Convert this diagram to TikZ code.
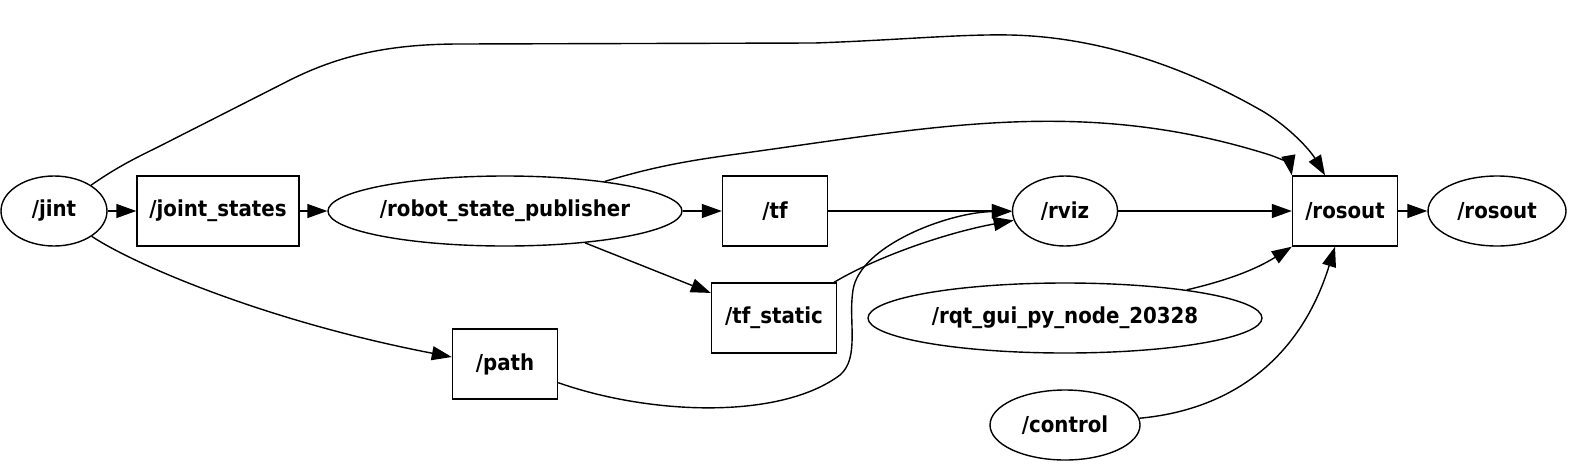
\documentclass[tikz,border=0pt]{standalone}
\usepackage{fontspec}
\setmainfont{DejaVu Sans Condensed}
\usetikzlibrary{shapes.geometric,arrows.meta}
\tikzstyle{topic} = [rectangle, minimum width = 105pt, minimum height = 70pt, inner sep = 0pt, text centered, draw = black, line width = 1.4pt, font = \bfseries\fontsize{22}{26}\selectfont]
\tikzstyle{rosnode} = [ellipse, minimum width = 105pt, minimum height = 70pt, inner sep = 0pt, text centered, draw = black, line width = 1.4pt, font = \bfseries\fontsize{22}{26}\selectfont]
\tikzstyle{arrow} = [line width = 1.4pt, -{Triangle[length=20pt,width=14pt]}]

\begin{document}
\begin{tikzpicture}[x = 1pt, y = -1pt, node distance = 107pt]
        	\useasboundingbox (0,0) rectangle (1570,464);

        	\node[rosnode, minimum width = 106pt] (jint) at (54,211) {/jint};
        	\node[topic, minimum width = 162pt, right of = jint, xshift = 57pt] (joint states) {/joint\_states};
        	\node[rosnode, minimum width = 354pt, right of = joint states, xshift = 180pt] (rsp) {/robot\_state\_publisher};
        	\node[topic, right of = rsp, xshift = 163pt] (tf) {/tf};
        	\node[rosnode, right of = tf, xshift = 183pt] (rviz) {/rviz};
        	\node[topic, right of = rviz, xshift = 173pt] (rosout) {/rosout};
        	\node[rosnode, minimum width = 138pt, right of = rosout, xshift = 45pt] (rosout log) {/rosout};
        	\node[topic, minimum width = 125pt, below of = tf, xshift = -1pt] (tf static) {/tf\_static};
        	\node[topic, below of = rsp, yshift = -46pt] (path) {/path};
        	\node[rosnode, minimum width = 394pt, below of = rviz] (rqt) {/rqt\_gui\_py\_node\_20328};
        	\node[rosnode, minimum width = 150pt, below of = rqt] (control) {/control};

        	\draw [arrow](jint)--(joint states);
        	\draw [arrow](joint states)--(rsp);
        	\draw [arrow](rsp)--(tf);
        	\draw [arrow](rsp)--(tf static);
        	\draw [arrow](tf)--(rviz);
        	\draw [arrow](rviz)--(rosout);
        	\draw [arrow](rosout)--(rosout log);
        	\draw [arrow](tf static) .. controls (880,255) and (950,232) .. (rviz);
        	\draw [arrow](path) .. controls (650,415) and (780,420) .. (840,375)
        		.. controls (860,358) and (848,320) .. (853,290)
        		.. controls (860,245) and (950,212) .. (rviz);
        	\draw [arrow](jint) .. controls (120,165) and (140,156) .. (160,146) -- (290,80)
        		.. controls (340,55) and (390,44) .. (460,44) -- (815,43)
        		.. controls (900,40) and (960,34) .. (1010,35)
        		.. controls (1110,37) and (1200,75) .. (1264,112)
        		.. controls (1290,128) and (1310,150) .. ([xshift=-20pt]rosout.north);
        	\draw [arrow](rsp) .. controls (650,168) and (680,162) .. (730,155)
        		.. controls (930,128) and (1080,95) .. (1270,155)
        		.. controls (1282,159) and (1290,165) .. (rosout.north west);
        	\draw [arrow](jint) .. controls (130,262) and (260,320) .. ([yshift=7pt]path.west);
        	\draw [arrow](rqt) .. controls (1225,281) and (1255,270) .. (rosout.south west);
        	\draw [arrow](control) .. controls (1230,410) and (1300,360) .. ([xshift=-10pt]rosout.south);

\end{tikzpicture}
\end{document}
